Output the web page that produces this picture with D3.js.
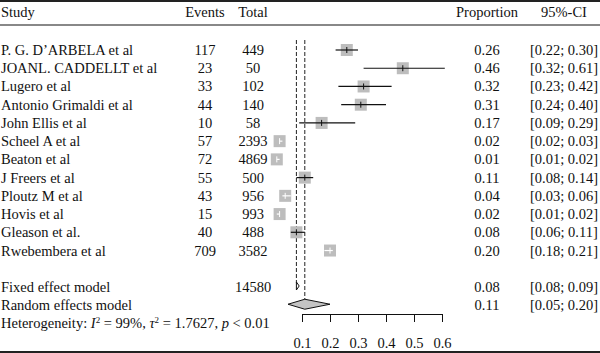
<!DOCTYPE html>
<html>
<head>
  <meta charset="utf-8">
  <title>Forest plot</title>
  <script src="https://d3js.org/d3.v7.min.js"></script>
  <style>
    body { margin: 0; background: #fff; }
    text { font-family: "Liberation Serif", "DejaVu Serif", serif; font-size: 14.5px; fill: #111; }
  </style>
</head>
<body>
<script>
  // study data
  var studies = ["P. G. D\u2019ARBELA et al", "JOANL. CADDELLT et al", "Lugero et al", "Antonio Grimaldi et al",
    "John Ellis et al", "Scheel A et al", "Beaton et al", "J Freers et al", "Ploutz M et al", "Hovis et al",
    "Gleason et al.", "Rwebembera et al"];
  var events = [117, 23, 33, 44, 10, 57, 72, 55, 43, 15, 40, 709];
  var totals = [449, 50, 102, 140, 58, 2393, 4869, 500, 956, 993, 488, 3582];
  var props = [0.26, 0.46, 0.32, 0.31, 0.17, 0.02, 0.01, 0.11, 0.04, 0.02, 0.08, 0.20];
  var lower = [0.22, 0.32, 0.23, 0.24, 0.09, 0.02, 0.01, 0.08, 0.03, 0.01, 0.06, 0.18];
  var upper = [0.30, 0.61, 0.42, 0.40, 0.29, 0.03, 0.02, 0.14, 0.06, 0.02, 0.11, 0.21];

  // pooled estimates
  var fixedEst = [0.08, 0.08, 0.09]; // est, lower, upper
  var randomEst = [0.11, 0.05, 0.20];
  var pooledTotal = 14580;
  var axisTicks = [0.1, 0.2, 0.3, 0.4, 0.5, 0.6];

  var width = 600, height = 353;
  var svg = d3.select("body").append("svg").attr("width", width).attr("height", height);

  var x = d3.scaleLinear().domain([0.1, 0.6]).range([302, 442]);
  var y = d3.scaleLinear().domain([0, 1]).range([50, 68.23]); // row index -> y
  var boxSize = 12;

  // frame lines
  svg.append("line").attr("x1", 0).attr("x2", width).attr("y1", 1).attr("y2", 1)
    .attr("stroke", "#222").attr("stroke-width", 2);
  svg.append("line").attr("x1", 0).attr("x2", width).attr("y1", 25).attr("y2", 25)
    .attr("stroke", "#888").attr("stroke-width", 2);
  svg.append("line").attr("x1", 0).attr("x2", width).attr("y1", 352).attr("y2", 352)
    .attr("stroke", "#222").attr("stroke-width", 2);

  // header
  var hy = 17;
  svg.append("text").attr("x", 1).attr("y", hy).text("Study");
  svg.append("text").attr("x", 205).attr("y", hy).attr("text-anchor", "middle").text("Events");
  svg.append("text").attr("x", 253).attr("y", hy).attr("text-anchor", "middle").text("Total");
  svg.append("text").attr("x", 487).attr("y", hy).attr("text-anchor", "middle").text("Proportion");
  svg.append("text").attr("x", 564).attr("y", hy).attr("text-anchor", "middle").text("95%-CI");

  // reference dashed lines
  svg.append("line").attr("x1", x(fixedEst[0])).attr("x2", x(fixedEst[0]))
    .attr("y1", 40).attr("y2", y(13) - 4)
    .attr("stroke", "#222").attr("stroke-dasharray", "4,2");
  svg.append("line").attr("x1", x(randomEst[0])).attr("x2", x(randomEst[0]))
    .attr("y1", 40).attr("y2", y(14) - 5)
    .attr("stroke", "#222").attr("stroke-dasharray", "4,2");

  var fmt = d3.format(".2f");
  var rows = svg.selectAll("g.row").data(studies).enter().append("g").attr("class", "row");

  rows.append("text").attr("x", 1).attr("y", function (d, i) { return y(i) + 5; }).text(function (d) { return d; });
  rows.append("text").attr("x", 205).attr("y", function (d, i) { return y(i) + 5; })
    .attr("text-anchor", "middle").text(function (d, i) { return events[i]; });
  rows.append("text").attr("x", 253).attr("y", function (d, i) { return y(i) + 5; })
    .attr("text-anchor", "middle").text(function (d, i) { return totals[i]; });
  rows.append("text").attr("x", 487).attr("y", function (d, i) { return y(i) + 5; })
    .attr("text-anchor", "middle").text(function (d, i) { return fmt(props[i]); });
  rows.append("text").attr("x", 564).attr("y", function (d, i) { return y(i) + 5; })
    .attr("text-anchor", "middle").text(function (d, i) { return "[" + fmt(lower[i]) + "; " + fmt(upper[i]) + "]"; });

  // squares
  rows.append("rect")
    .attr("x", function (d, i) { return x(props[i]) - boxSize / 2; })
    .attr("y", function (d, i) { return y(i) - boxSize / 2; })
    .attr("width", boxSize).attr("height", boxSize)
    .attr("fill", "#bdbdbd");

  function ciColor(i) {
    var inside = x(lower[i]) >= x(props[i]) - boxSize / 2 && x(upper[i]) <= x(props[i]) + boxSize / 2;
    return inside ? "#fff" : "#111";
  }
  rows.append("line")
    .attr("x1", function (d, i) { return x(lower[i]); })
    .attr("x2", function (d, i) { return x(upper[i]); })
    .attr("y1", function (d, i) { return y(i); })
    .attr("y2", function (d, i) { return y(i); })
    .attr("stroke", function (d, i) { return ciColor(i); }).attr("stroke-width", 1.2);
  rows.append("line")
    .attr("x1", function (d, i) { return x(props[i]); })
    .attr("x2", function (d, i) { return x(props[i]); })
    .attr("y1", function (d, i) { return y(i) - 3; })
    .attr("y2", function (d, i) { return y(i) + 3; })
    .attr("stroke", function (d, i) { return ciColor(i); }).attr("stroke-width", 1);

  // pooled rows
  function diamond(est, cy, h) {
    return "M" + x(est[1]) + "," + cy + "L" + x(est[0]) + "," + (cy - h) +
      "L" + x(est[2]) + "," + cy + "L" + x(est[0]) + "," + (cy + h) + "Z";
  }
  var fy = y(13), ry = y(14);
  svg.append("text").attr("x", 1).attr("y", fy + 5).text("Fixed effect model");
  svg.append("text").attr("x", 253).attr("y", fy + 5).attr("text-anchor", "middle").text(pooledTotal);
  svg.append("text").attr("x", 487).attr("y", fy + 5).attr("text-anchor", "middle").text(fmt(fixedEst[0]));
  svg.append("text").attr("x", 564).attr("y", fy + 5).attr("text-anchor", "middle")
    .text("[" + fmt(fixedEst[1]) + "; " + fmt(fixedEst[2]) + "]");
  svg.append("path").attr("d", diamond(fixedEst, fy - 1, 4)).attr("fill", "#fff").attr("stroke", "#111");

  svg.append("text").attr("x", 1).attr("y", ry + 5).text("Random effects model");
  svg.append("text").attr("x", 487).attr("y", ry + 5).attr("text-anchor", "middle").text(fmt(randomEst[0]));
  svg.append("text").attr("x", 564).attr("y", ry + 5).attr("text-anchor", "middle")
    .text("[" + fmt(randomEst[1]) + "; " + fmt(randomEst[2]) + "]");
  svg.append("path").attr("d", diamond(randomEst, ry - 1, 5)).attr("fill", "#c4c4c4").attr("stroke", "#111");

  // heterogeneity
  var het = svg.append("text").attr("x", 1).attr("y", y(15) + 5);
  het.append("tspan").text("Heterogeneity: ");
  het.append("tspan").attr("font-style", "italic").text("I");
  het.append("tspan").attr("dy", -5).attr("font-size", "9px").text("2");
  het.append("tspan").attr("dy", 5).text(" = 99%, ");
  het.append("tspan").attr("font-style", "italic").text("\u03c4");
  het.append("tspan").attr("dy", -5).attr("font-size", "9px").text("2");
  het.append("tspan").attr("dy", 5).text(" = 1.7627, ");
  het.append("tspan").attr("font-style", "italic").text("p");
  het.append("tspan").text(" < 0.01");

  // axis
  var axisScale = x.copy();
  var axis = svg.append("g").attr("transform", "translate(0,314)")
    .call(d3.axisBottom(axisScale).tickValues(axisTicks).tickSizeInner(8).tickSizeOuter(0).tickPadding(16)
      .tickFormat(d3.format(".1f")));
  axis.select(".domain").attr("stroke", "#111");
  axis.selectAll(".tick line").attr("stroke", "#111");
  axis.selectAll("text").attr("font-family", null).attr("font-size", null).attr("fill", null);
</script>
</body>
</html>
